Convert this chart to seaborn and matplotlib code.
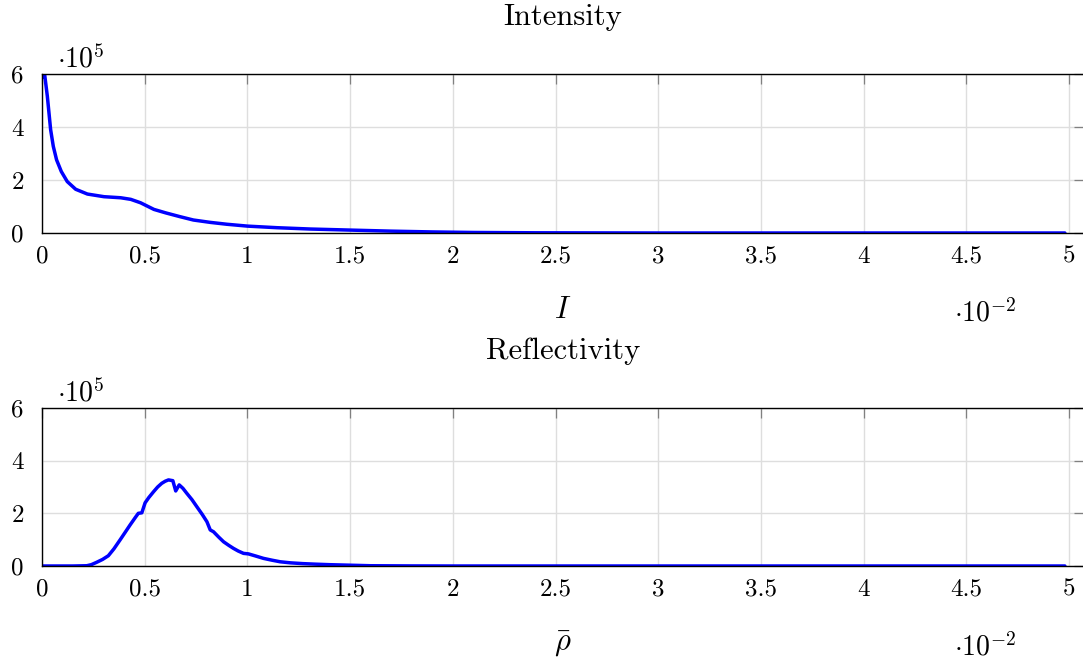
import matplotlib
matplotlib.use("Agg")
import matplotlib.pyplot as plt
import seaborn as sns
import pandas as pd
from matplotlib.ticker import FixedLocator, FixedFormatter

# x in units of 1e-2, y in units of 1e5 (as displayed)
int_x = [0.0, 0.013, 0.026, 0.034, 0.042, 0.055, 0.071, 0.094, 0.123, 0.164, 0.221, 0.302,
         0.383, 0.432, 0.48, 0.545, 0.602, 0.67, 0.737, 0.82, 0.9, 1.0, 1.144, 1.306, 1.5,
         1.7, 1.9, 2.1, 2.4, 3.0, 4.0, 4.98]
int_y = [5.86, 5.97, 5.16, 4.53, 3.9, 3.27, 2.76, 2.32, 1.94, 1.65, 1.47, 1.37,
         1.33, 1.27, 1.14, 0.89, 0.76, 0.62, 0.49, 0.4, 0.33, 0.26, 0.2, 0.15, 0.11,
         0.07, 0.04, 0.02, 0.008, 0.0, 0.0, 0.0]

ref_x = [0.0, 0.15, 0.218, 0.24, 0.266, 0.295, 0.323, 0.35, 0.38, 0.405, 0.429, 0.455, 0.469,
         0.486, 0.502, 0.52, 0.543, 0.563, 0.583, 0.6, 0.616, 0.637, 0.651, 0.668, 0.686,
         0.705, 0.73, 0.754, 0.78, 0.803, 0.819, 0.835, 0.86, 0.884, 0.91, 0.932, 0.955,
         0.981, 1.005, 1.04, 1.078, 1.12, 1.16, 1.21, 1.27, 1.33, 1.40, 1.5, 1.6, 1.8, 2.0,
         3.0, 4.0, 4.98]
ref_y = [0.0, 0.0, 0.01, 0.05, 0.14, 0.25, 0.39, 0.65, 0.99, 1.28, 1.56, 1.85, 2.0,
         2.02, 2.40, 2.6, 2.82, 3.0, 3.14, 3.22, 3.27, 3.24, 2.85, 3.08, 2.95,
         2.76, 2.52, 2.25, 1.96, 1.68, 1.37, 1.30, 1.1, 0.92, 0.78, 0.67, 0.57,
         0.48, 0.46, 0.38, 0.29, 0.22, 0.16, 0.12, 0.09, 0.07, 0.05, 0.03, 0.01, 0.003, 0.0,
         0.0, 0.0, 0.0]

x_ticks = [0, 0.5, 1, 1.5, 2, 2.5, 3, 3.5, 4, 4.5, 5]
x_tick_labels = ["0", "0.5", "1", "1.5", "2", "2.5", "3", "3.5", "4", "4.5", "5"]
y_ticks = [0, 2, 4, 6]
y_tick_labels = ["0", "2", "4", "6"]

titles = ["Intensity", "Reflectivity"]
xlabels = [r"$I$", r"$\bar{\rho}$"]

sns.set_theme(style="white")
plt.rcParams["font.family"] = ["cmr10", "DejaVu Serif"]
plt.rcParams["mathtext.fontset"] = "cm"
plt.rcParams["axes.unicode_minus"] = False
plt.rcParams["text.color"] = "black"
plt.rcParams["axes.labelcolor"] = "black"
plt.rcParams["xtick.labelcolor"] = "black"
plt.rcParams["ytick.labelcolor"] = "black"

W, H = 1083, 660
fig = plt.figure(figsize=(W / 100, H / 100), dpi=100)

def axes_rect(left_px, right_px, top_px, bottom_px):
    return [left_px / W, 1 - bottom_px / H, (right_px - left_px) / W, (bottom_px - top_px) / H]

ax1 = fig.add_axes(axes_rect(42, 1083.5, 74, 233))
ax2 = fig.add_axes(axes_rect(42, 1083.5, 408, 566))

datasets = [pd.DataFrame({"x": int_x, "y": int_y}), pd.DataFrame({"x": ref_x, "y": ref_y})]

xmax = 5 * (1083.5 - 42) / (1069 - 42)
for i, ax in enumerate([ax1, ax2]):
    sns.lineplot(data=datasets[i], x="x", y="y", ax=ax, color="#0000ff", linewidth=2.5,
                 sort=False, estimator=None)
    ax.set_xlim(0, xmax)
    ax.set_ylim(0, 6)
    ax.xaxis.set_major_locator(FixedLocator(x_ticks))
    ax.xaxis.set_major_formatter(FixedFormatter(x_tick_labels))
    ax.yaxis.set_major_locator(FixedLocator(y_ticks))
    ax.yaxis.set_major_formatter(FixedFormatter(y_tick_labels))
    ax.grid(True, color="#dedede", linewidth=1.0)
    ax.set_axisbelow(True)
    ax.tick_params(axis="both", direction="in", length=7, width=0.9, color="#808080",
                   labelsize=18, labelcolor="black", top=True, right=True,
                   labeltop=False, labelright=False)
    ax.tick_params(axis="x", pad=9)
    ax.tick_params(axis="y", pad=13)
    for s in ax.spines.values():
        s.set_color("black")
        s.set_linewidth(1.0)
    ax.set_title(titles[i], fontsize=22, pad=35, color="black")
    ax.set_xlabel(xlabels[i], fontsize=22, labelpad=21, color="black")
    ax.set_ylabel("")
    ax.text(0.014, 1.0, r"$\cdot 10^{5}$", transform=ax.transAxes, fontsize=20,
            ha="left", va="bottom", color="black")

fig.text(985 / W, 1 - 313 / H, r"$\cdot 10^{-2}$", fontsize=20, ha="center", va="center",
         color="black")
fig.text(985 / W, 1 - 647 / H, r"$\cdot 10^{-2}$", fontsize=20, ha="center", va="center",
         color="black")

fig.savefig("out.png", dpi=100)
